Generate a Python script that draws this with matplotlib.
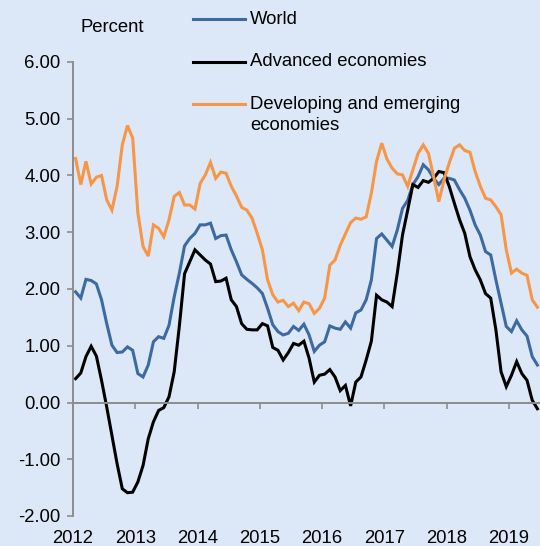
import numpy as np
import matplotlib
matplotlib.use("Agg")
import matplotlib.pyplot as plt
from matplotlib.lines import Line2D

# Monthly inflation, percent, Jan 2012 onward
world = [1.95, 1.84, 2.17, 2.15, 2.09, 1.81, 1.39, 1.01, 0.88, 0.89, 0.98, 0.92,
         0.51, 0.45, 0.66, 1.07, 1.16, 1.13, 1.36, 1.86, 2.28, 2.76, 2.89, 2.98,
         3.13, 3.13, 3.16, 2.89, 2.94, 2.95, 2.69, 2.48, 2.25, 2.17, 2.10, 2.02,
         1.92, 1.66, 1.37, 1.25, 1.19, 1.22, 1.34, 1.27, 1.38, 1.19, 0.90, 1.01,
         1.07, 1.35, 1.31, 1.29, 1.42, 1.31, 1.58, 1.63, 1.81, 2.16, 2.89, 2.97,
         2.86, 2.75, 3.04, 3.42, 3.56, 3.84, 3.98, 4.19, 4.10, 3.95, 3.84, 3.95,
         3.95, 3.92, 3.75, 3.60, 3.39, 3.13, 2.95, 2.66, 2.60, 2.16, 1.75, 1.34,
         1.25, 1.44, 1.28, 1.17, 0.81, 0.66]
advanced = [0.42, 0.52, 0.81, 0.99, 0.82, 0.39, -0.08, -0.58, -1.08, -1.52, -1.59, -1.58,
            -1.40, -1.11, -0.64, -0.34, -0.14, -0.09, 0.10, 0.54, 1.35, 2.27, 2.48, 2.69,
            2.60, 2.51, 2.44, 2.13, 2.14, 2.19, 1.81, 1.69, 1.39, 1.29, 1.28, 1.28,
            1.39, 1.35, 0.97, 0.92, 0.75, 0.88, 1.04, 1.01, 1.08, 0.78, 0.36, 0.48,
            0.50, 0.58, 0.45, 0.21, 0.30, -0.06, 0.36, 0.45, 0.75, 1.08, 1.89, 1.81,
            1.77, 1.69, 2.28, 2.95, 3.39, 3.84, 3.79, 3.91, 3.88, 3.95, 4.07, 4.05,
            3.81, 3.51, 3.22, 2.98, 2.57, 2.34, 2.16, 1.92, 1.84, 1.28, 0.54, 0.28,
            0.48, 0.72, 0.51, 0.39, 0.04, -0.11]
developing = [4.30, 3.84, 4.25, 3.85, 3.97, 4.00, 3.57, 3.39, 3.81, 4.54, 4.88, 4.66,
              3.34, 2.75, 2.58, 3.13, 3.07, 2.92, 3.22, 3.63, 3.70, 3.48, 3.48, 3.41,
              3.86, 4.01, 4.23, 3.95, 4.06, 4.04, 3.81, 3.64, 3.44, 3.39, 3.25, 2.98,
              2.69, 2.16, 1.90, 1.77, 1.80, 1.69, 1.75, 1.62, 1.77, 1.74, 1.57, 1.66,
              1.84, 2.42, 2.51, 2.77, 2.97, 3.17, 3.25, 3.23, 3.27, 3.69, 4.25, 4.57,
              4.29, 4.13, 4.03, 4.01, 3.81, 4.10, 4.39, 4.54, 4.39, 3.98, 3.54, 3.92,
              4.22, 4.48, 4.54, 4.44, 4.41, 4.07, 3.81, 3.60, 3.57, 3.45, 3.31, 2.69,
              2.28, 2.35, 2.28, 2.24, 1.81, 1.68]
years = [2012, 2013, 2014, 2015, 2016, 2017, 2018, 2019]
labels = ["World", "Advanced economies", "Developing and emerging\neconomies"]
colors = ["#3d6aa0", "#000000", "#f79646"]

bg = "#dce8f7"
plt.rcParams["font.family"] = ["Liberation Sans", "DejaVu Sans"]
fs = 13.3

fig = plt.figure(figsize=(5.4, 5.46), dpi=100, facecolor=bg)
ax = fig.add_axes([73 / 540, 1 - 516 / 546, 1 - 73 / 540, (516 - 62) / 546])
ax.set_facecolor(bg)

# mid-month positions on a year scale
x = 2012 + (np.arange(len(world)) + 0.5) / 12
for series, c in zip([world, advanced, developing], colors):
    ax.plot(x, series, color=c, lw=2.2, solid_joinstyle="miter", clip_on=False)

ax.set_xlim(2012, 2012 + 90 / 12)
ax.set_ylim(-2, 6)
ax.set_yticks(np.arange(-2, 7, 1))
ax.set_yticklabels([f"{v:.2f}" for v in np.arange(-2, 7, 1)], fontsize=fs)

grey = "#8c8c8c"
for s in ["top", "right"]:
    ax.spines[s].set_visible(False)
ax.spines["left"].set_color(grey)
ax.spines["left"].set_linewidth(1.4)
ax.spines["bottom"].set_color(grey)
ax.spines["bottom"].set_linewidth(1.4)
ax.spines["bottom"].set_position(("data", 0))
ax.tick_params(axis="y", colors=grey, labelcolor="black", length=4, width=1.2, pad=5)
ax.set_xticks(years)
ax.tick_params(axis="x", colors=grey, length=4, width=1.2, labelbottom=False)

# year labels along the bottom edge
sec = ax.secondary_xaxis(0.0)
sec.set_xticks(years)
sec.set_xticklabels([str(y) for y in years], fontsize=fs)
sec.tick_params(length=0, pad=10)
sec.spines["bottom"].set_visible(False)

fig.text(80 / 540, 1 - 27 / 546, "Percent", fontsize=fs, va="center", ha="left")

# legend drawn by hand to keep the handle level with the first text line
leg_y = [19, 62, 104]
for lab, c, yy in zip(labels, colors, leg_y):
    yf = 1 - yy / 546
    fig.add_artist(Line2D([193 / 540, 245 / 540], [yf, yf], color=c, lw=2.2,
                          transform=fig.transFigure))
    if "\n" in lab:
        fig.text(250 / 540, yf + 8 / 546, lab, fontsize=fs, va="top", ha="left",
                 linespacing=1.3)
    else:
        fig.text(250 / 540, yf, lab, fontsize=fs, va="center", ha="left")

fig.savefig("out.png", dpi=100, facecolor=bg)
